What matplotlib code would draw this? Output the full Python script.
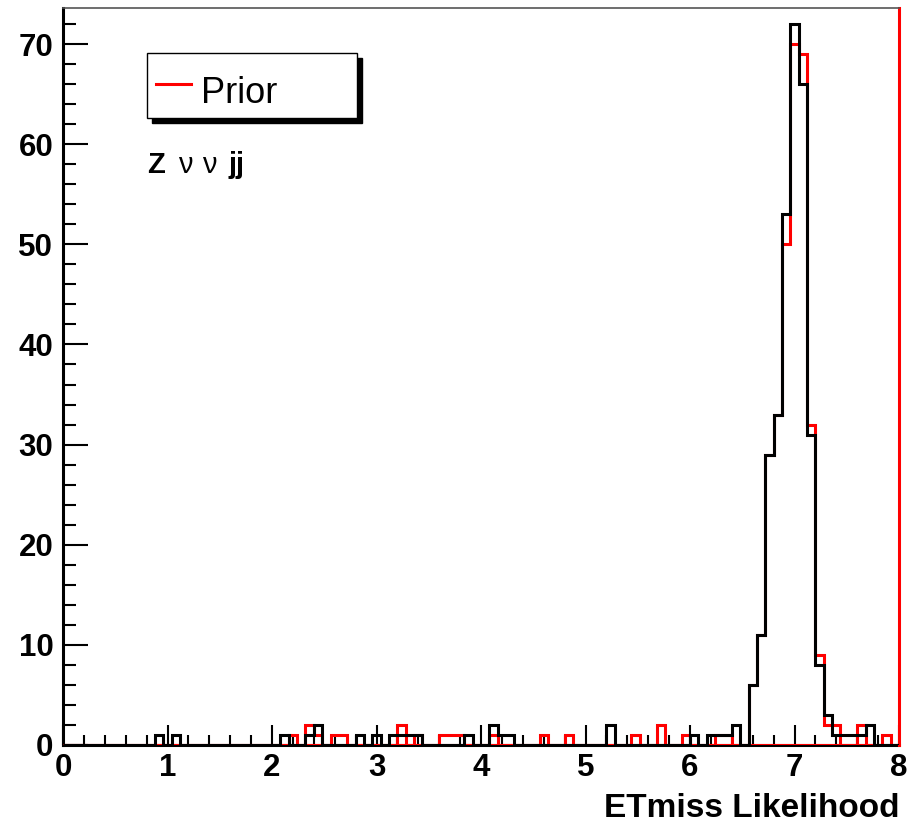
import numpy as np
import matplotlib
matplotlib.use("Agg")
import matplotlib.pyplot as plt
from matplotlib.patches import Rectangle
from matplotlib.lines import Line2D

plt.rcParams["font.family"] = ["Liberation Sans", "DejaVu Sans"]

# 100 bins between 0 and 8
edges = np.linspace(0.0, 8.0, 101)

# black histogram (bin counts)
counts_black = [
    0, 0, 0, 0, 0, 0, 0, 0, 0, 0,
    0, 1, 0, 1, 0, 0, 0, 0, 0, 0,
    0, 0, 0, 0, 0, 0, 1, 0, 0, 1,
    2, 0, 0, 0, 0, 1, 0, 1, 0, 1,
    1, 1, 1, 0, 0, 0, 0, 0, 1, 0,
    0, 2, 1, 1, 0, 0, 0, 0, 0, 0,
    0, 0, 0, 0, 0, 2, 0, 0, 0, 0,
    0, 0, 0, 0, 0, 1, 0, 1, 1, 1,
    2, 0, 6, 11, 29, 33, 53, 72, 66, 31,
    8, 3, 1, 1, 1, 1, 2, 0, 0, 0,
]

# red "Prior" histogram
counts_prior = [
    0, 0, 0, 0, 0, 0, 0, 0, 0, 0,
    0, 0, 0, 0, 0, 0, 0, 0, 0, 0,
    0, 0, 0, 0, 0, 0, 0, 1, 0, 2,
    1, 0, 1, 1, 0, 0, 0, 0, 0, 0,
    2, 0, 1, 0, 0, 1, 1, 1, 0, 0,
    0, 1, 0, 0, 0, 0, 0, 1, 0, 0,
    1, 0, 0, 0, 0, 0, 0, 0, 1, 0,
    0, 2, 0, 0, 1, 0, 0, 0, 1, 1,
    0, 0, 6, 11, 29, 33, 50, 70, 69, 32,
    9, 2, 2, 0, 0, 2, 0, 0, 1, 0,
]

x_ticks = [0, 1, 2, 3, 4, 5, 6, 7, 8]
y_ticks = [0, 10, 20, 30, 40, 50, 60, 70]

fig = plt.figure(figsize=(9.19, 8.24), dpi=100)
ax = fig.add_axes([63 / 919, 79 / 824, 836 / 919, 737 / 824])

ax.stairs(counts_prior, edges, color="#ff0000", linewidth=2.2, zorder=3)
ax.plot([0, 8], [0, 0], color="#ff0000", linewidth=2.2, zorder=3.05,
        solid_capstyle="butt")
ax.stairs(counts_black, edges, color="black", linewidth=2.2, zorder=3.1)

ax.set_xlim(0, 8)
ax.set_ylim(0, 73.6)

# ROOT-like frame
for side in ("left", "bottom"):
    ax.spines[side].set_linewidth(2.2)
    ax.spines[side].set_zorder(1)
ax.spines["top"].set_color("#555555")
ax.spines["top"].set_linewidth(1.2)
ax.spines["right"].set_color("#ff0000")
ax.spines["right"].set_linewidth(2.2)

ax.set_xticks(x_ticks)
ax.set_yticks(y_ticks)
ax.set_xticks(np.arange(0, 8.01, 0.2), minor=True)
ax.set_yticks(np.arange(0, 73, 2), minor=True)
ax.tick_params(axis="both", which="both", direction="in", top=False,
               right=False, width=1.5, colors="black")
ax.tick_params(axis="x", which="major", length=14.5, pad=6)
ax.tick_params(axis="x", which="minor", length=7)
ax.tick_params(axis="y", which="major", length=18, pad=7)
ax.tick_params(axis="y", which="minor", length=9)
for lab in ax.get_xticklabels() + ax.get_yticklabels():
    lab.set_fontsize(22.5)
    lab.set_fontweight("bold")

ax.text(1.0, -0.098, "ETmiss Likelihood", transform=ax.transAxes,
        ha="right", va="baseline", fontsize=24, fontweight="bold")

# legend box with drop shadow
x0, x1 = 0.1008, 0.352
y0, y1 = 0.8503, 0.9385
dx, dy = 5 / 836, 5 / 737
ax.add_patch(Rectangle((x0 + dx, y0 - dy), x1 - x0, y1 - y0,
                       transform=ax.transAxes, facecolor="black",
                       edgecolor="black", zorder=5, clip_on=False))
ax.add_patch(Rectangle((x0, y0), x1 - x0, y1 - y0, transform=ax.transAxes,
                       facecolor="white", edgecolor="black", linewidth=1.0,
                       zorder=6, clip_on=False))
ax.add_line(Line2D([0.111, 0.153], [0.8965, 0.8965], transform=ax.transAxes,
                   color="#ff0000", linewidth=2.2, zorder=7))
ax.text(0.165, 0.8707, "Prior", transform=ax.transAxes, ha="left",
        va="baseline", fontsize=26, zorder=7)

# process label
ax.text(0.1001, 0.776, "Z", transform=ax.transAxes, ha="left",
        va="baseline", fontsize=21, fontweight="bold")
ax.text(0.1376, 0.776, "ν", transform=ax.transAxes, ha="left",
        va="baseline", fontsize=21)
ax.text(0.1663, 0.776, "ν", transform=ax.transAxes, ha="left",
        va="baseline", fontsize=21)
ax.text(0.1974, 0.776, "jj", transform=ax.transAxes, ha="left",
        va="baseline", fontsize=21, fontweight="bold")

fig.savefig("out.png", dpi=100)
